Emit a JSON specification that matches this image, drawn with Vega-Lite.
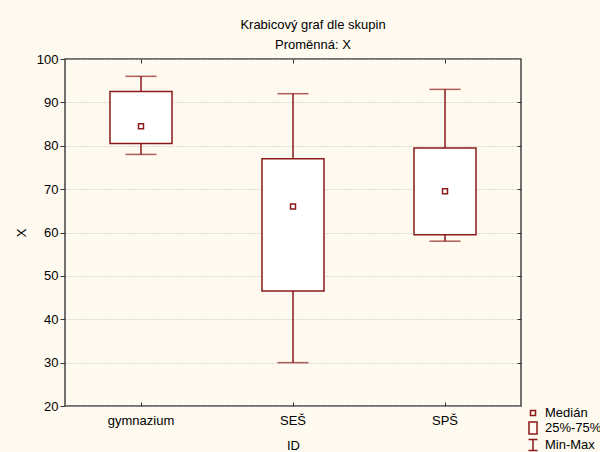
{
  "$schema": "https://vega.github.io/schema/vega-lite/v6.json",
  "autosize": "none",
  "width": 456,
  "height": 347,
  "padding": {"left": 65, "top": 59, "right": 79, "bottom": 46},
  "background": "#fefaef",
  "title": {
    "text": ["Krabicový graf dle skupin", "Proměnná: X"],
    "fontSize": 13,
    "fontWeight": "normal",
    "font": "Liberation Sans",
    "color": "#000",
    "lineHeight": 20,
    "anchor": "middle",
    "dx": 20,
    "offset": 1
  },
  "config": {
    "font": "Liberation Sans",
    "view": {"fill": "white", "stroke": "#444", "strokeWidth": 1.5},
    "axis": {"labelColor": "#000", "titleColor": "#000", "labelFontSize": 13, "titleFontSize": 13, "titleFontWeight": "normal", "domain": false, "tickColor": "#333"},
    "legend": {"padding": 0}
  },
  "datasets": {
    "stats": [
      {"ID": "gymnazium", "min": 78, "q1": 80.5, "median": 84.5, "q3": 92.5, "max": 96},
      {"ID": "SEŠ", "min": 30, "q1": 46.5, "median": 66, "q3": 77, "max": 92},
      {"ID": "SPŠ", "min": 58, "q1": 59.5, "median": 69.5, "q3": 79.5, "max": 93}
    ],
    "leg": [{"k": "Medián"}, {"k": "25%-75%"}, {"k": "Min-Max"}]
  },
  "resolve": {"axis": {"x": "independent", "y": "independent"}},
  "layer": [
    {
      "data": {"name": "stats"},
      "mark": {"type": "rule", "color": "#8b1a1a", "strokeWidth": 1.5},
      "encoding": {
        "x": {"field": "ID", "type": "nominal", "sort": ["gymnazium", "SEŠ", "SPŠ"],
              "scale": {"paddingInner": 0, "paddingOuter": 0},
              "axis": {"orient": "bottom", "title": "ID", "labelAngle": 0, "tickSize": -4, "labelPadding": 12, "titlePadding": 12}},
        "y": {"field": "min", "type": "quantitative", "scale": {"domain": [20, 100], "nice": false, "zero": false},
              "axis": {"orient": "left", "title": "X", "values": [20, 30, 40, 50, 60, 70, 80, 90, 100], "tickSize": 5, "labelPadding": 2, "grid": true, "gridColor": "#bbbbbb", "gridDash": [1, 2], "titlePadding": 8}},
        "y2": {"field": "max"}
      }
    },
    {
      "data": {"name": "stats"},
      "mark": {"type": "tick", "color": "#8b1a1a", "size": 31, "thickness": 1.5},
      "encoding": {
        "x": {"field": "ID", "type": "nominal", "sort": ["gymnazium", "SEŠ", "SPŠ"],
              "axis": {"orient": "top", "title": null, "labels": false, "tickSize": -4}},
        "y": {"field": "min", "type": "quantitative",
              "axis": {"orient": "right", "title": null, "labels": false, "tickSize": -4, "values": [30, 40, 50, 60, 70, 80, 90]}}
      }
    },
    {
      "data": {"name": "stats"},
      "mark": {"type": "tick", "color": "#8b1a1a", "size": 31, "thickness": 1.5},
      "encoding": {
        "x": {"field": "ID", "type": "nominal", "sort": ["gymnazium", "SEŠ", "SPŠ"], "axis": null},
        "y": {"field": "max", "type": "quantitative", "axis": null}
      }
    },
    {
      "data": {"name": "stats"},
      "mark": {"type": "bar", "fill": "white", "stroke": "#8b1a1a", "strokeWidth": 1.5, "width": 62},
      "encoding": {
        "x": {"field": "ID", "type": "nominal", "sort": ["gymnazium", "SEŠ", "SPŠ"], "axis": null},
        "y": {"field": "q1", "type": "quantitative", "axis": null},
        "y2": {"field": "q3"}
      }
    },
    {
      "data": {"name": "stats"},
      "mark": {"type": "point", "shape": "square", "size": 25, "filled": true, "fill": "white", "stroke": "#8b1a1a", "strokeWidth": 1.5, "opacity": 1},
      "encoding": {
        "x": {"field": "ID", "type": "nominal", "sort": ["gymnazium", "SEŠ", "SPŠ"], "axis": null},
        "y": {"field": "median", "type": "quantitative", "axis": null}
      }
    },
    {
      "data": {"name": "leg"},
      "mark": {"type": "point", "opacity": 0},
      "encoding": {
        "shape": {"field": "k", "type": "nominal",
                  "scale": {"domain": ["Medián", "25%-75%", "Min-Max"],
                            "range": ["M-0.42,-0.42H0.42V0.42H-0.42Z", "M-0.67,-1H0.67V1H-0.67Z", "M-0.75,-0.9H0.75M0,-0.9V0.9M-0.75,0.9H0.75"]},
                  "legend": {"title": null, "orient": "none", "legendX": 461, "legendY": 347,
                             "symbolSize": 144, "symbolStrokeColor": "#8b1a1a", "symbolStrokeWidth": 1.5,
                             "symbolOpacity": 1, "symbolFillColor": "transparent", "labelFontSize": 13,
                             "labelColor": "#000", "rowPadding": -1, "labelOffset": 5}}
      }
    }
  ]
}
